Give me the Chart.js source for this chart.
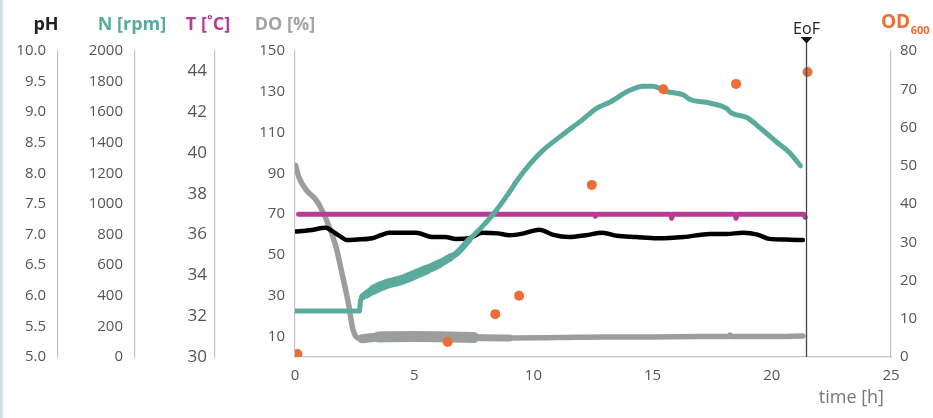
<!DOCTYPE html>
<html>
<head>
<meta charset="utf-8">
<script src="https://cdn.jsdelivr.net/npm/chart.js@4"></script>
<style>
html, body { margin: 0; padding: 0; background: #fff; }
#wrap { position: relative; width: 933px; height: 418px; }
#wrap::before { content: ""; position: absolute; left: 0; top: 0; width: 3px; height: 418px; background: #d3e0ea; }
canvas { display: block; }
</style>
</head>
<body>
<div id="wrap"><canvas id="c" width="933" height="418"></canvas></div>
<script>
// Fermentation run: stirrer speed, temperature, pH, dissolved oxygen and OD600
const FONT = '"Open Sans", "DejaVu Sans", sans-serif';

// stirrer speed N [rpm]
const nTime = [0, 2.7, 2.75, 2.85, 3.0, 3.3, 3.9, 4.5, 4.9, 5.5, 6.05, 6.5, 6.8, 7.3, 7.9, 8.45, 9.0, 9.3, 9.85, 10.4, 11.2, 12.05, 12.65, 13.2, 14.0, 14.6, 15.0, 15.6, 16.3, 16.55, 17.4, 18.1, 18.3, 18.95, 19.6, 20.2, 20.75, 21.2];
const nRpm  = [300, 300, 370, 395, 410, 440, 480, 505, 530, 570, 610, 650, 680, 765, 860, 960, 1080, 1150, 1260, 1350, 1450, 1550, 1625, 1665, 1740, 1770, 1770, 1735, 1712, 1685, 1660, 1625, 1595, 1565, 1485, 1405, 1335, 1250];

// temperature T [°C]
const tTime = [0.15, 12.55, 12.6, 12.65, 15.75, 15.8, 15.85, 18.45, 18.5, 18.55, 21.35, 21.4];
const tDeg  = [37.0, 37.0, 36.9, 37.0, 37.0, 36.8, 37.0, 37.0, 36.8, 37.0, 37.0, 36.85];

// pH
const phTime = [0, 0.6, 1.3, 1.55, 1.9, 2.18, 2.6, 3.24, 3.6, 3.95, 4.5, 5.08, 5.76, 6.3, 6.76, 7.3, 7.86, 8.5, 9.0, 9.6, 10.25, 10.8, 11.5, 12.2, 12.9, 13.5, 14.3, 15.2, 16.3, 17.4, 18.1, 18.8, 19.4, 19.9, 20.6, 21.3];
const phVal  = [7.05, 7.07, 7.11, 7.06, 6.97, 6.91, 6.92, 6.94, 6.99, 7.03, 7.03, 7.03, 6.96, 6.96, 6.93, 6.94, 7.03, 7.02, 6.99, 7.02, 7.08, 7.0, 6.96, 6.99, 7.03, 6.98, 6.96, 6.94, 6.96, 7.01, 7.01, 7.03, 7.0, 6.93, 6.92, 6.91];

// dissolved oxygen DO [%]
const doTime = [0.02, 0.17, 0.46, 0.88, 1.13, 1.43, 1.72, 1.97, 2.27, 2.4, 2.56, 2.8, 3.5, 5.0, 6.5, 7.5, 9.0, 11.0, 13.0, 15.0, 17.0, 18.2, 18.25, 18.3, 20.0, 21.3];
const doPct  = [94, 88, 82, 77, 72, 64, 54, 41, 24.5, 15, 10, 9, 9.8, 10, 9.8, 9.5, 9.3, 9.5, 9.8, 9.8, 10, 10, 10.8, 10, 10, 10.3];

// optical density OD600 (offline samples)
const odTime = [0.1, 6.4, 8.4, 9.4, 12.45, 15.45, 18.5, 21.5];
const odVal  = [0.8, 3.9, 11.2, 16, 45, 70, 71.4, 74.5];

// end of fermentation [h]
const eofTime = 21.45;

// tick labels of each axis
const xTicks  = [0, 5, 10, 15, 20, 25];
const phTicks = [5.0, 5.5, 6.0, 6.5, 7.0, 7.5, 8.0, 8.5, 9.0, 9.5, 10.0];
const nTicks  = [0, 200, 400, 600, 800, 1000, 1200, 1400, 1600, 1800, 2000];
const tTicks  = [30, 32, 34, 36, 38, 40, 42, 44];
const doTicks = [10, 30, 50, 70, 90, 110, 130, 150];
const odTicks = [0, 10, 20, 30, 40, 50, 60, 70, 80];

const COL = { n: '#5aab9e', t: '#b63c96', ph: '#000000', do: '#9c9e9e', od: '#ef6c35', tick: '#555555', axis: '#c4c4c4' };

const pts = (xs, ys) => xs.map((x, i) => ({ x: x, y: ys[i] }));
const fixTicks = arr => scale => { scale.ticks = arr.map(v => ({ value: v })); };
const fixWidth = w => scale => { scale.width = w; };
const plain = v => String(v);

function tickFont(size) {
  return { color: COL.tick, font: { family: FONT, size: size }, autoSkip: false, callback: plain };
}

function yAxis(opts) {
  return Object.assign({
    type: 'linear',
    position: 'left',
    grid: { display: false, drawTicks: false },
    border: { display: true, color: COL.axis, width: 1.2 }
  }, opts);
}

// N band widths: the controller output scatters strongly at the start of the ramp
function nWidth(ctx) {
  const x = ctx.p0.parsed.x;
  if (x >= 2.8 && x < 3.0) return 7;
  if (x >= 3.0 && x < 3.3) return 8.5;
  if (x >= 3.3 && x < 5.5) return 10;
  if (x >= 5.5 && x < 6.05) return 9;
  if (x >= 6.05 && x < 6.5) return 8;
  if (x >= 6.5 && x < 7.3) return 6.5;
  return 5;
}
function doWidth(ctx) {
  const x = ctx.p0.parsed.x;
  if (x >= 2.8 && x < 3.5) return 9;
  if (x >= 3.5 && x < 7.5) return 11;
  if (x >= 7.5 && x < 9.0) return 7;
  return 5.5;
}

const overlay = {
  id: 'overlay',
  afterDatasetsDraw(chart) {
    const ctx = chart.ctx;
    const s = chart.scales;
    const bottom = chart.chartArea.bottom;
    ctx.save();
    // axis titles
    ctx.textBaseline = 'alphabetic';
    ctx.textAlign = 'center';
    ctx.font = 'bold 18px ' + FONT;
    const titles = [
      ['pH', s.yPh.right - 12, '#222222'],
      ['N [rpm]', s.yN.right - 3, COL.n],
      ['T [\u02DAC]', s.yT.right - 7, COL.t],
      ['DO [%]', s.yDo.right - 10, '#a3a3a3']
    ];
    titles.forEach(t => { ctx.fillStyle = t[2]; ctx.fillText(t[0], t[1], 30); });
    // OD600 with subscript
    ctx.textAlign = 'left';
    ctx.fillStyle = COL.od;
    ctx.font = 'bold 19px ' + FONT;
    const ox = s.yOd.left - 10;
    ctx.fillText('OD', ox, 28);
    const w = ctx.measureText('OD').width;
    ctx.font = 'bold 11px ' + FONT;
    ctx.fillText('600', ox + w + 0.5, 34);
    // end of fermentation marker
    const ex = Math.round(s.x.getPixelForValue(eofTime)) + 0.5;
    ctx.strokeStyle = '#444444';
    ctx.lineWidth = 1.3;
    ctx.beginPath();
    ctx.moveTo(ex, 42);
    ctx.lineTo(ex, bottom);
    ctx.stroke();
    ctx.fillStyle = '#111111';
    ctx.beginPath();
    ctx.moveTo(ex - 6, 37);
    ctx.lineTo(ex + 6, 37);
    ctx.lineTo(ex, 43.5);
    ctx.closePath();
    ctx.fill();
    ctx.font = '16px ' + FONT;
    ctx.textAlign = 'center';
    ctx.fillStyle = '#222222';
    ctx.fillText('EoF', ex, 34);
    // x axis title
    ctx.textAlign = 'right';
    ctx.font = '18px ' + FONT;
    ctx.fillStyle = '#777777';
    ctx.fillText('time [h]', 884, 403);
    ctx.restore();
  }
};

new Chart(document.getElementById('c'), {
  type: 'line',
  data: {
    datasets: [
      { label: 'OD600', data: pts(odTime, odVal), yAxisID: 'yOd', showLine: false, order: 0,
        pointRadius: 5, pointHoverRadius: 5, pointBackgroundColor: COL.od, pointBorderWidth: 0 },
      { label: 'N', data: pts(nTime, nRpm), yAxisID: 'yN', order: 1, borderColor: COL.n, borderWidth: 5,
        pointRadius: 0, cubicInterpolationMode: 'monotone', borderCapStyle: 'round', borderJoinStyle: 'round',
        segment: { borderWidth: nWidth } },
      { label: 'pH', data: pts(phTime, phVal), yAxisID: 'yPh', order: 2, borderColor: COL.ph, borderWidth: 4.5,
        pointRadius: 0, cubicInterpolationMode: 'monotone', borderCapStyle: 'round', borderJoinStyle: 'round' },
      { label: 'T', data: pts(tTime, tDeg), yAxisID: 'yT', order: 3, borderColor: COL.t, borderWidth: 5,
        pointRadius: 0, tension: 0, borderCapStyle: 'round', borderJoinStyle: 'round' },
      { label: 'DO', data: pts(doTime, doPct), yAxisID: 'yDo', order: 4, borderColor: COL.do, borderWidth: 5,
        pointRadius: 0, cubicInterpolationMode: 'monotone', borderCapStyle: 'round', borderJoinStyle: 'round',
        segment: { borderWidth: doWidth } }
    ]
  },
  options: {
    responsive: false,
    animation: false,
    devicePixelRatio: 1,
    layout: { padding: { left: 4, right: 0, top: 51, bottom: 0 } },
    plugins: { legend: { display: false }, tooltip: { enabled: false } },
    scales: {
      x: {
        type: 'linear', position: 'bottom', min: 0, max: 25,
        afterBuildTicks: fixTicks(xTicks),
        afterFit: scale => { scale.height = 61; },
        grid: { display: false, drawTicks: false },
        border: { display: true, color: COL.axis, width: 1.2 },
        ticks: Object.assign(tickFont(15), { padding: 10, maxRotation: 0 })
      },
      yPh: yAxis({ weight: 4, min: 5, max: 10, afterBuildTicks: fixTicks(phTicks), afterFit: fixWidth(54),
        ticks: Object.assign(tickFont(15), { padding: 12, callback: v => v.toFixed(1) }) }),
      yN: yAxis({ weight: 3, min: 0, max: 2000, afterBuildTicks: fixTicks(nTicks), afterFit: fixWidth(77),
        ticks: Object.assign(tickFont(15), { padding: 12 }) }),
      yT: yAxis({ weight: 2, min: 30, max: 45, afterBuildTicks: fixTicks(tTicks), afterFit: fixWidth(80),
        ticks: Object.assign(tickFont(17), { padding: 8 }) }),
      yDo: yAxis({ weight: 1, min: 0, max: 150, afterBuildTicks: fixTicks(doTicks), afterFit: fixWidth(80),
        ticks: Object.assign(tickFont(15), { padding: 10 }) }),
      yOd: yAxis({ position: 'right', min: 0, max: 80, afterBuildTicks: fixTicks(odTicks), afterFit: fixWidth(42),
        ticks: Object.assign(tickFont(15), { padding: 9 }) })
    }
  },
  plugins: [overlay]
});
</script>
</body>
</html>
